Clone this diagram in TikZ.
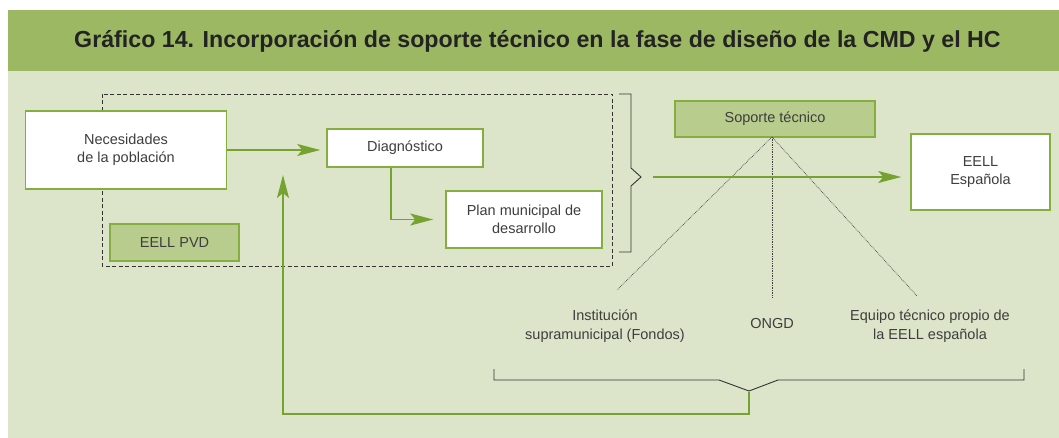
\documentclass[tikz,border=0pt]{standalone}
\usepackage{fontspec}
\setmainfont{Liberation Sans}
\usetikzlibrary{arrows.meta,positioning}

\definecolor{bandgreen}{RGB}{157,184,99}
\definecolor{panelgreen}{RGB}{220,229,201}
\definecolor{boxline}{RGB}{132,174,64}
\definecolor{boxfill}{RGB}{184,204,142}
\definecolor{flowgreen}{RGB}{118,163,48}
\definecolor{textgray}{RGB}{62,62,62}
\definecolor{titlegray}{RGB}{35,35,35}

\begin{document}
\begin{tikzpicture}[x=1pt,y=-1pt,>={Stealth[length=23pt,width=12pt,inset=5pt]},
thick,box/.style={draw=boxline,line width=1.5pt,fill=white,align=center,inner sep=0pt,
  text=textgray,font=\fontsize{14.5}{18.5}\selectfont},
dark box/.style={box,fill=boxfill},
flow/.style={->,draw=flowgreen,line width=1.6pt},
tie/.style={draw=black!75,densely dotted,line width=0.7pt},
brace line/.style={draw=black!80,line width=0.9pt},
label node/.style={align=center,text=textgray,font=\fontsize{14.5}{18.5}\selectfont}]

% fondo y cabecera
\useasboundingbox (0,0) rectangle (1059,438);
\fill[white] (0,0) rectangle (1059,438);
\fill[panelgreen] (8,71) rectangle (1059,438);
\fill[bandgreen] (8,10) rectangle (1059,71);
\node[text=titlegray,font=\bfseries\fontsize{23.2}{26}\selectfont] (title) at (537.5,41)
  {Gráfico 14. Incorporación de soporte técnico en la fase de diseño de la CMD y el HC};

% marco de la EELL PVD
\draw[black!80,line width=0.8pt,dash pattern=on 4pt off 2.5pt] (102,94) rectangle (612,266);

\node[box,minimum width=201pt,minimum height=78pt] (nec) at (126,150) {Necesidades\\de la población};
\node[box,minimum width=156pt,minimum height=38pt] (diag) at (405,148) {Diagnóstico};
\node[box,minimum width=156pt,minimum height=57pt] (plan) at (524,219.5) {Plan municipal de\\desarrollo};
\node[dark box,minimum width=129pt,minimum height=37pt] (pvd) at (174.5,242.5) {EELL PVD};
\node[dark box,minimum width=200pt,minimum height=36pt] (sop) at (775,119) {Soporte técnico};
\node[box,minimum width=139pt,minimum height=76pt] (esp) at (980.5,172) {EELL\\Española};

\node[label node] (inst) at (605,326) {Institución\\supramunicipal (Fondos)};
\node[label node] (ongd) at (772,324) {ONGD};
\node[label node] (equipo) at (930,326) {Equipo técnico propio de\\la EELL española};

% llaves
\draw[brace line] (619,94) -- (631,94) -- (631,168) -- (641,177) -- (631,186) -- (631,252) -- (619,252);
\draw[brace line] (494,369) -- (494,380) -- (719,380) -- (749,391) -- (778,380) -- (1024,380) -- (1024,369);

\coordinate (apex) at (772,137);
\coordinate (t1) at (617,290);
\coordinate (t2) at (772,297);
\coordinate (t3) at (917,296);
\coordinate (from) at (653,177);
\coordinate (btip) at (749,392);
\coordinate (low) at (749,414);
\coordinate (back) at (283,175);

\draw[tie] (apex) -- (t1);
\draw[tie] (apex) -- (t2);
\draw[tie] (apex) -- (t3);

\draw[flow,shorten >=6pt] (nec.east) -- (nec.east -| diag.west);
\draw[flow,shorten >=12pt] ([xshift=-14pt]diag.south) |- (plan.west);
\draw[flow,shorten >=9pt] (from) -- (esp.west |- from);
\draw[flow] (btip) -- (low) -| (back);

\end{tikzpicture}
\end{document}
